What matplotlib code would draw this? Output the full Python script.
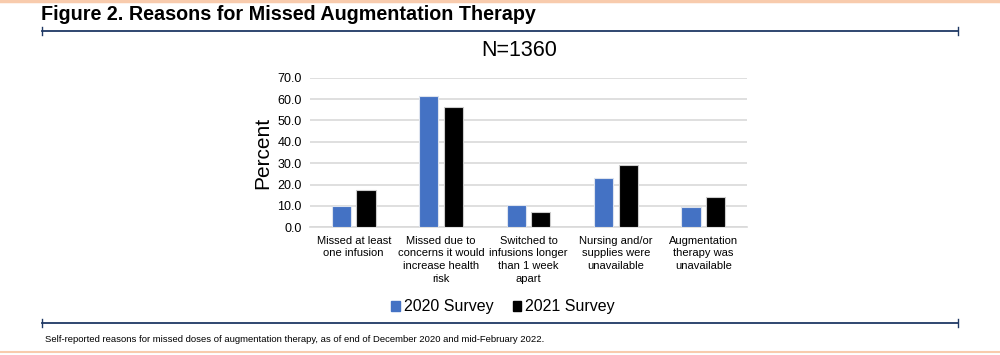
import matplotlib
matplotlib.use("Agg")
import matplotlib.pyplot as plt
import numpy as np
from matplotlib.lines import Line2D
from matplotlib.patches import Patch

categories = [
    "Missed at least\none infusion",
    "Missed due to\nconcerns it would\nincrease health\nrisk",
    "Switched to\ninfusions longer\nthan 1 week\napart",
    "Nursing and/or\nsupplies were\nunavailable",
    "Augmentation\ntherapy was\nunavailable",
]
series_names = ["2020 Survey", "2021 Survey"]
values_2020 = [10.1, 61.5, 10.6, 22.9, 9.6]
values_2021 = [17.4, 56.4, 7.0, 29.0, 14.0]
yticks = [0, 10, 20, 30, 40, 50, 60, 70]

BLUE = "#4472C4"
NAVY = "#1F3864"
ORANGE = "#F8CBAD"

plt.rcParams['font.family'] = ['Liberation Sans', 'DejaVu Sans']

fig = plt.figure(figsize=(10, 3.55), dpi=100)

# decorative lines
fig.add_artist(Line2D([0, 1], [0.997, 0.997], color=ORANGE, lw=2.5, transform=fig.transFigure))
fig.add_artist(Line2D([0, 1], [0.008, 0.008], color=ORANGE, lw=1.5, transform=fig.transFigure))
for yy in [1 - 31/355, 1 - 323/355]:
    fig.add_artist(Line2D([0.042, 0.958], [yy, yy], color=NAVY, lw=1.3, transform=fig.transFigure))
    for xx in [0.042, 0.958]:
        fig.add_artist(Line2D([xx, xx], [yy - 0.012, yy + 0.012], color=NAVY, lw=1.0, transform=fig.transFigure))

fig.text(0.041, 1 - 14/355, "Figure 2. Reasons for Missed Augmentation Therapy",
         fontsize=14.2, fontweight='bold', va='center', ha='left')
fig.text(0.045, 1 - 340/355,
         "Self-reported reasons for missed doses of augmentation therapy, as of end of December 2020 and mid-February 2022.",
         fontsize=6.8, va='center', ha='left')
fig.text(0.519, 1 - 50/355, "N=1360", fontsize=15.5, ha='center', va='center')

ax = fig.add_axes([0.31, 0.3597, 0.437, 0.4214])
x = np.arange(len(categories))
w = 0.22
off = 0.14
ax.bar(x - off, values_2020, w, color=BLUE, edgecolor='#dde3ee', linewidth=0.8, zorder=3, label=series_names[0])
ax.bar(x + off, values_2021, w, color='black', edgecolor='#cccccc', linewidth=0.8, zorder=3, label=series_names[1])
ax.set_xlim(-0.5, len(categories) - 0.5)
ax.set_ylim(0, 70)
ax.set_yticks(yticks)
ax.set_yticklabels([f"{v:.1f}" for v in yticks], fontsize=9)
ax.set_xticks(x)
ax.set_xticklabels(categories, fontsize=8, linespacing=1.35, va='top')
ax.tick_params(axis='both', length=0)
ax.tick_params(axis='x', pad=6)
ax.tick_params(axis='y', pad=6)
ax.yaxis.grid(True, color='#d9d9d9', lw=1.2, zorder=0)
for s in ['top', 'right', 'left']:
    ax.spines[s].set_visible(False)
ax.spines['bottom'].set_color('#d9d9d9')
ax.spines['bottom'].set_linewidth(1.2)
ax.set_ylabel("Percent", fontsize=15)
ax.yaxis.set_label_coords(-0.087, 0.5)

handles = [Patch(color=BLUE), Patch(color='black')]
fig.legend(handles, series_names, loc='center', bbox_to_anchor=(0.503, 1 - 307/355), ncol=2,
           frameon=False, fontsize=11.5, handlelength=0.55, handleheight=0.55, handletextpad=0.25,
           columnspacing=1.2)

fig.savefig("out.png", dpi=100)
